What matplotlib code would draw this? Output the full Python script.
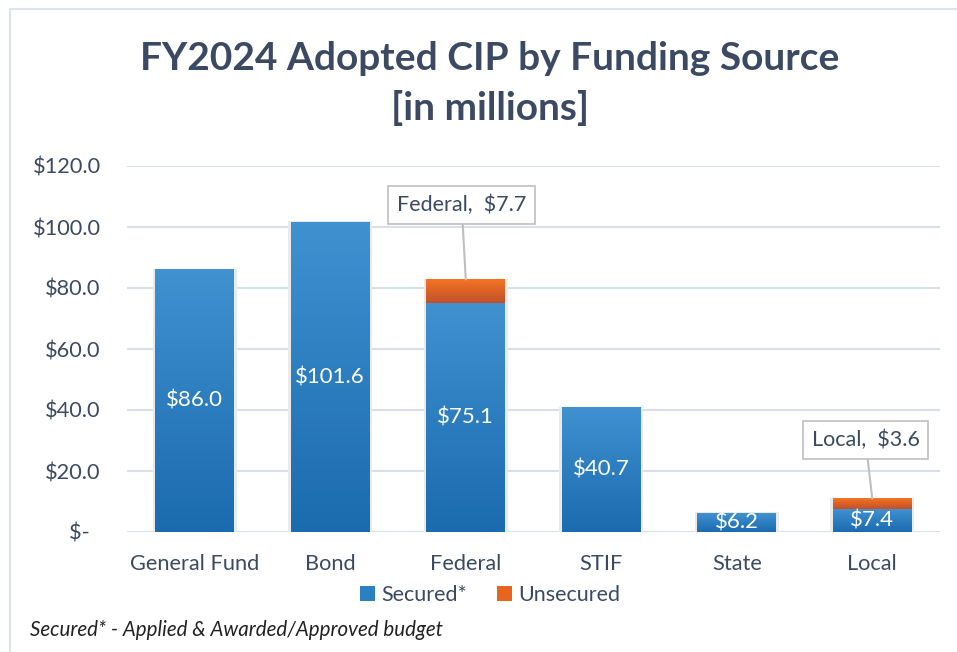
import numpy as np
import matplotlib.pyplot as plt
from matplotlib.patches import Patch, Rectangle
from matplotlib.colors import LinearSegmentedColormap

categories = ['General Fund', 'Bond', 'Federal', 'STIF', 'State', 'Local']
secured = [86.0, 101.6, 75.1, 40.7, 6.2, 7.4]
unsecured = [0.0, 0.0, 7.7, 0.0, 0.0, 3.6]
yticks = [0, 20, 40, 60, 80, 100, 120]

TXT = '#3B4A62'
GRID = '#D9DFEA'
plt.rcParams['font.family'] = ['Lato', 'DejaVu Sans']

blue_cm = LinearSegmentedColormap.from_list('b', ['#1B6BAF', '#3F91D0'])
orange_cm = LinearSegmentedColormap.from_list('o', ['#C2502B', '#F47422'])

fig = plt.figure(figsize=(9.57, 6.52), dpi=100)
ax = fig.add_axes([127 / 957, 1 - 532 / 652, 813 / 957, 366 / 652])

# outer chart frame
fig.add_artist(Rectangle((9.5 / 957, -0.1), 1.2, 1 - 8.5 / 652 + 0.1,
                         transform=fig.transFigure, fill=False,
                         edgecolor='#DCE3EE', linewidth=1.5))

x = np.arange(len(categories))
w = 0.58
grad = np.linspace(0, 1, 64).reshape(-1, 1)


def grad_bar(xc, bottom, height, cmap):
    # faint shadow behind the bar
    ax.add_patch(Rectangle((xc - w / 2 - 0.02, bottom - 0.3), w + 0.04, height + 0.6,
                           facecolor='#EAEAEA', edgecolor='none', zorder=2))
    ax.imshow(grad, cmap=cmap, aspect='auto', origin='lower',
              extent=[xc - w / 2, xc + w / 2, bottom, bottom + height], zorder=3)


for i in range(len(categories)):
    grad_bar(x[i], 0, secured[i], blue_cm)
    if unsecured[i] > 0:
        grad_bar(x[i], secured[i], unsecured[i], orange_cm)
    ax.text(x[i], secured[i] / 2, f'${secured[i]:.1f}', ha='center', va='center',
            color='white', fontsize=16, zorder=5)

# callouts for the unsecured parts
callouts = {2: 107.2, 5: 30.2}
for i, ty in callouts.items():
    top = secured[i] + unsecured[i]
    ax.annotate(f'{categories[i]},  ${unsecured[i]:.1f}', xy=(x[i], top),
                xytext=(x[i] - 0.03 if i == 2 else x[i] - 0.05, ty),
                ha='center', va='center', fontsize=15.5, color=TXT, zorder=6,
                bbox=dict(boxstyle='square,pad=0.4', facecolor='white',
                          edgecolor='#BFBFBF', linewidth=1.2),
                arrowprops=dict(arrowstyle='-', color='#BFBFBF', lw=1.5,
                                shrinkA=0, shrinkB=0))

ax.set_xlim(-0.5, len(categories) - 0.5)
ax.set_ylim(0, 120)
ax.set_xticks(x)
ax.set_xticklabels(categories)
ax.set_yticks(yticks)
ax.set_yticklabels([f'${v:.1f}' if v else '$-  ' for v in yticks])
ax.tick_params(length=0, labelsize=15.7, labelcolor=TXT)
ax.tick_params(axis='y', pad=19)
ax.tick_params(axis='x', pad=16)
ax.grid(axis='y', color=GRID, linewidth=1.5, zorder=0)
ax.set_axisbelow(True)
for s in ax.spines.values():
    s.set_visible(False)

fig.text(0.512, 1 - 58 / 652, 'FY2024 Adopted CIP by Funding Source', ha='center',
         va='center', fontsize=28, fontweight='bold', color=TXT)
fig.text(0.512, 1 - 108 / 652, '[in millions]', ha='center', va='center',
         fontsize=28, fontweight='bold', color=TXT)

handles = [Patch(facecolor='#2B7FC3', label='Secured*'),
           Patch(facecolor='#E8651F', label='Unsecured')]
fig.legend(handles=handles, loc='center', bbox_to_anchor=(0.512, 1 - 595 / 652),
           ncol=2, frameon=False, fontsize=15.5, labelcolor=TXT, handlelength=0.7,
           handleheight=0.7, handletextpad=0.3, columnspacing=1.4)

fig.text(30 / 957, 1 - 630 / 652, 'Secured* - Applied & Awarded/Approved budget',
         ha='left', va='center', fontsize=14.8, style='italic', color='#222222')

fig.savefig('out.png', dpi=100)
